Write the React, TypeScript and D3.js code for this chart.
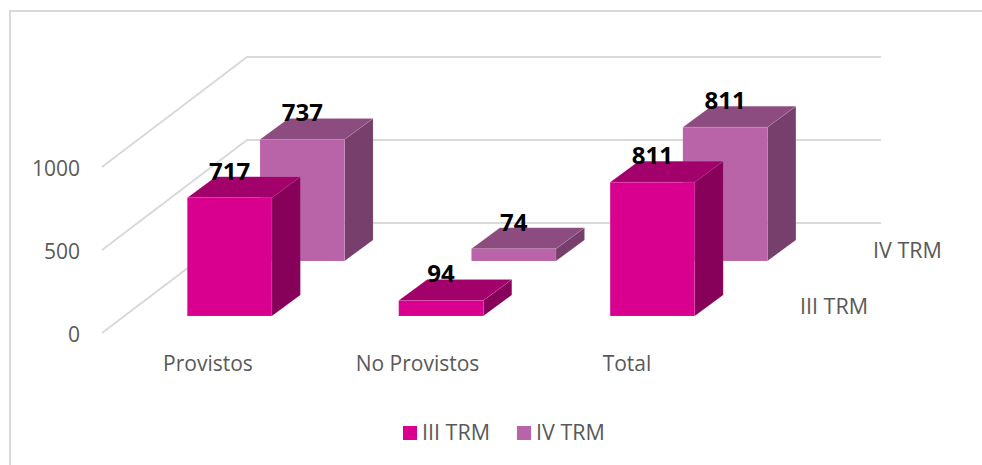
import { useEffect, useRef } from "react";
import * as d3 from "d3";

// values
const categories = ["Provistos", "No Provistos", "Total"];
const seriesNames = ["III TRM", "IV TRM"];
const seriesIII = [717, 94, 811];
const seriesIV = [737, 74, 811];
const yTicks = [0, 500, 1000];

const colors: Record<string, { front: string; top: string; side: string }> = {
  "III TRM": { front: "#d90090", top: "#a2006b", side: "#87005a" },
  "IV TRM": { front: "#b963a8", top: "#8c4c80", side: "#773f6b" },
};

const textFont = "'Open Sans', sans-serif";
const gridColor = "#d9d9d9";
const labelColor = "#595959";

function App() {
  const svgRef = useRef<SVGSVGElement>(null);

  useEffect(() => {
    const svg = d3.select(svgRef.current);
    svg.selectAll("*").remove();

    // frame, only the left and top edges show in the reference
    svg
      .append("path")
      .attr("d", "M10,465V11H982")
      .attr("fill", "none")
      .attr("stroke", gridColor)
      .attr("stroke-width", 2);

    // front row baseline, the box depth is expressed through these offsets
    const baseY = 316;
    const y = d3.scaleLinear().domain([0, 1000]).range([0, 165]);
    const x = d3
      .scaleBand()
      .domain(categories)
      .range([187.3, 694.7])
      .paddingInner(0.6)
      .paddingOuter(0);
    // each series sits further back on the floor
    const rowX = d3.scalePoint().domain(seriesNames).range([0, 72.7]);
    const rowY = d3.scalePoint().domain(seriesNames).range([0, -55]);
    const depthX = 28.5;
    const depthY = -21;

    // walls: gridlines run along the side wall then along the back wall
    const wallFrontX = 102;
    const wallBackX = 247;
    const wallRightX = 881;
    const wallFrontY = d3.scaleLinear().domain([0, 1000]).range([333, 167]);
    const wallBackY = d3.scaleLinear().domain([0, 1000]).range([223, 57]);

    svg
      .append("g")
      .selectAll("path")
      .data(yTicks)
      .enter()
      .append("path")
      .attr("fill", "none")
      .attr("stroke", gridColor)
      .attr("stroke-width", 2)
      .attr(
        "d",
        (d) =>
          d3.line()([
            [wallFrontX, wallFrontY(d)],
            [wallBackX, wallBackY(d)],
            [wallRightX, wallBackY(d)],
          ]) as string
      );

    svg
      .append("g")
      .selectAll("text")
      .data(yTicks)
      .enter()
      .append("text")
      .attr("x", 80)
      .attr("y", (d) => wallFrontY(d) + 9)
      .attr("text-anchor", "end")
      .style("font-family", textFont)
      .style("font-size", "21px")
      .attr("fill", labelColor)
      .text((d) => d);

    // back row first so the front row covers it
    const rows = [
      { name: "IV TRM", values: seriesIV },
      { name: "III TRM", values: seriesIII },
    ];

    rows.forEach((row) => {
      const c = colors[row.name];
      const ox = rowX(row.name) as number;
      const oy = rowY(row.name) as number;

      categories.forEach((cat, i) => {
        const x0 = (x(cat) as number) + ox;
        const x1 = x0 + x.bandwidth();
        const bottom = baseY + oy;
        const top = bottom - y(row.values[i]);
        const g = svg.append("g");
        const poly = (pts: [number, number][], fill: string) =>
          g
            .append("polygon")
            .attr("points", pts.map((p) => p.join(",")).join(" "))
            .attr("fill", fill)
            .attr("stroke", "white")
            .attr("stroke-opacity", 0.12)
            .attr("stroke-width", 0.75);

        poly(
          [
            [x1, bottom],
            [x1 + depthX, bottom + depthY],
            [x1 + depthX, top + depthY],
            [x1, top],
          ],
          c.side
        );
        poly(
          [
            [x0, top],
            [x0 + depthX, top + depthY],
            [x1 + depthX, top + depthY],
            [x1, top],
          ],
          c.top
        );
        poly(
          [
            [x0, top],
            [x1, top],
            [x1, bottom],
            [x0, bottom],
          ],
          c.front
        );
      });
    });

    // data labels go above everything
    rows.forEach((row) => {
      const ox = rowX(row.name) as number;
      const oy = rowY(row.name) as number;
      categories.forEach((cat, i) => {
        svg
          .append("text")
          .attr("x", (x(cat) as number) + ox + x.bandwidth() / 2)
          .attr("y", baseY + oy - y(row.values[i]) - 18)
          .attr("text-anchor", "middle")
          .style("font-family", textFont)
          .style("font-size", "24px")
          .style("font-weight", "bold")
          .attr("fill", "black")
          .text(row.values[i]);
      });
    });

    // category labels
    const labelX = d3.scalePoint().domain(categories).range([208, 627]);
    svg
      .append("g")
      .selectAll("text")
      .data(categories)
      .enter()
      .append("text")
      .attr("x", (d) => labelX(d) as number)
      .attr("y", 371)
      .attr("text-anchor", "middle")
      .style("font-family", textFont)
      .style("font-size", "21px")
      .attr("fill", labelColor)
      .text((d) => d);

    // series labels on the depth axis
    const seriesLabels: [string, number, number][] = [
      ["III TRM", 800, 314],
      ["IV TRM", 873, 258],
    ];
    seriesLabels.forEach(([name, lx, ly]) => {
      svg
        .append("text")
        .attr("x", lx)
        .attr("y", ly)
        .style("font-family", textFont)
        .style("font-size", "21.5px")
        .attr("fill", labelColor)
        .text(name);
    });

    // legend
    const legendX = d3.scalePoint().domain(seriesNames).range([403, 517]);
    const legend = svg
      .append("g")
      .selectAll("g")
      .data(seriesNames)
      .enter()
      .append("g")
      .attr("transform", (d) => `translate(${legendX(d)},426)`);

    legend
      .append("rect")
      .attr("width", 14)
      .attr("height", 14)
      .attr("fill", (d) => colors[d].front);

    legend
      .append("text")
      .attr("x", 19)
      .attr("y", 14)
      .style("font-family", textFont)
      .style("font-size", "21.5px")
      .attr("fill", labelColor)
      .text((d) => d);
  }, []);

  return (
    <svg
      ref={svgRef}
      width={982}
      height={465}
      style={{ position: "absolute", left: 0, top: 0, background: "white" }}
    />
  );
}

export default App;
